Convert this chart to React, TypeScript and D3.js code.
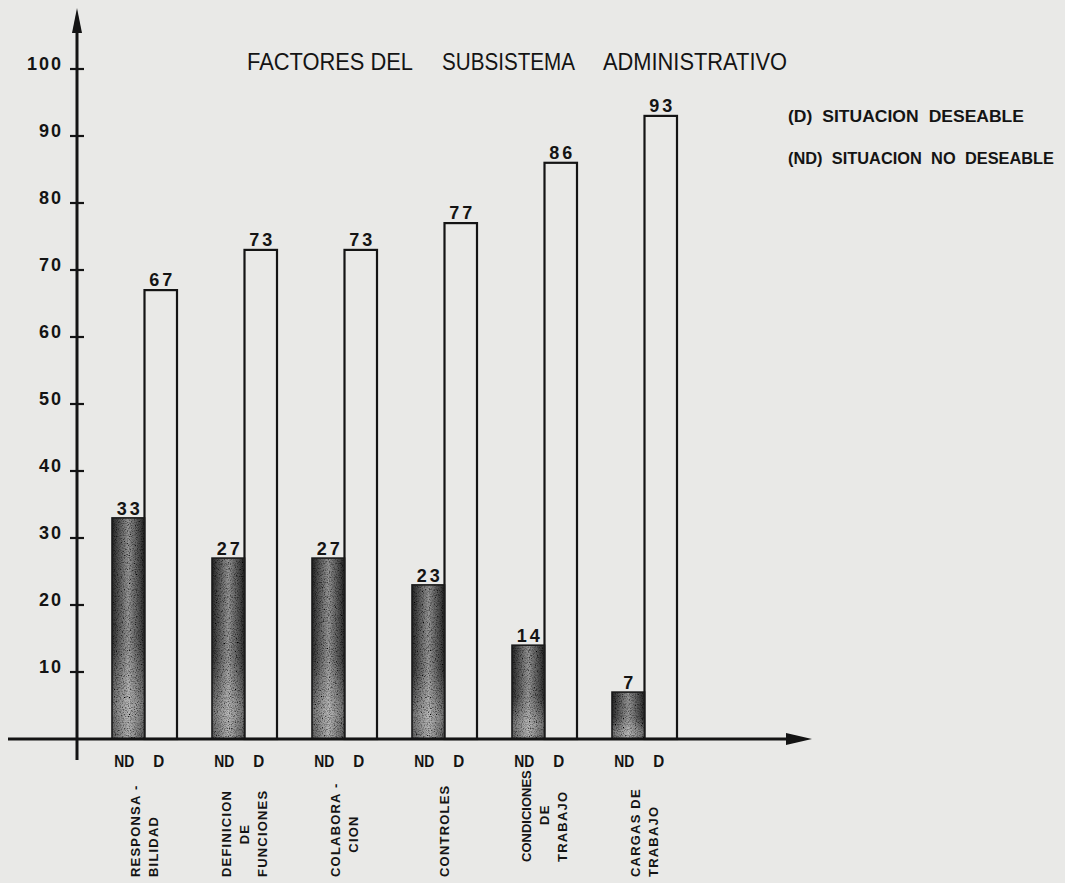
import React from "react";
import * as d3 from "d3";

// data
const categories = [
  "RESPONSABILIDAD",
  "DEFINICION DE FUNCIONES",
  "COLABORACION",
  "CONTROLES",
  "CONDICIONES DE TRABAJO",
  "CARGAS DE TRABAJO",
];
const categoryLines = [
  ["RESPONSA -", "BILIDAD"],
  ["DEFINICION", "DE", "FUNCIONES"],
  ["COLABORA -", "CION"],
  ["CONTROLES"],
  ["CONDICIONES", "DE", "TRABAJO"],
  ["CARGAS DE", "TRABAJO"],
];
const noDeseable = [33, 27, 27, 23, 14, 7];
const deseable = [67, 73, 73, 77, 86, 93];
const seriesKeys = ["ND", "D"];
const yTicks = [10, 20, 30, 40, 50, 60, 70, 80, 90, 100];
const titleWords = ["FACTORES DEL", "SUBSISTEMA", "ADMINISTRATIVO"];
const legendLines = ["(D) SITUACION DESEABLE", "(ND) SITUACION NO DESEABLE"];

const W = 1065;
const H = 883;
const BG = "#e9e9e7";
const INK = "#141414";
const FONT = "'Liberation Sans', Arial, sans-serif";

export default function App() {
  const baseY = 739;
  const axisX = 77;

  // scales
  const x0 = d3.scaleBand<string>().domain(categories).range([112, 677]).paddingInner(0.35).paddingOuter(0);
  const x1 = d3.scaleBand<string>().domain(seriesKeys).range([0, x0.bandwidth()]).padding(0);
  const y = d3.scaleLinear().domain([0, 100]).range([baseY, 69]);

  const rows = categories.map((c, i) => ({ cat: c, ND: noDeseable[i], D: deseable[i] }));

  const titleX = [247, 442, 603];
  const titleLen = [166, 133, 184];

  return (
    <svg
      width={W}
      height={H}
      style={{ position: "absolute", left: 0, top: 0, background: BG }}
    >
      <defs>
        <linearGradient id="ndH" x1="0" x2="1" y1="0" y2="0">
          <stop offset="0" stopColor="#222" />
          <stop offset="0.15" stopColor="#474747" />
          <stop offset="0.5" stopColor="#959595" />
          <stop offset="0.85" stopColor="#474747" />
          <stop offset="1" stopColor="#222" />
        </linearGradient>
        <linearGradient id="ndV" x1="0" x2="0" y1="0" y2="1">
          <stop offset="0" stopColor="#ffffff" stopOpacity="0" />
          <stop offset="0.55" stopColor="#ffffff" stopOpacity="0.05" />
          <stop offset="0.85" stopColor="#ffffff" stopOpacity="0.36" />
          <stop offset="1" stopColor="#ffffff" stopOpacity="0.25" />
        </linearGradient>
        <filter id="grain" x="0" y="0" width="1" height="1">
          <feTurbulence type="fractalNoise" baseFrequency="0.85" numOctaves="2" seed="7" result="noise" />
          <feColorMatrix
            in="noise"
            type="matrix"
            values="0 0 0 0 0  0 0 0 0 0  0 0 0 0 0  2.4 0 0 0 -1.0"
            result="specks"
          />
          <feComposite in="specks" in2="SourceGraphic" operator="atop" />
        </filter>
      </defs>

      <rect width={W} height={H} fill={BG} />

      {/* title */}
      {titleWords.map((w, i) => (
        <text
          key={w}
          x={titleX[i]}
          y={70}
          fontFamily={FONT}
          fontSize={24}
          fill={INK}
          textLength={titleLen[i]}
          lengthAdjust="spacingAndGlyphs"
        >
          {w}
        </text>
      ))}

      {/* legend */}
      {legendLines.map((t, i) => (
        <text
          key={t}
          x={788}
          y={122 + i * 42}
          fontFamily={FONT}
          fontWeight="bold"
          fontSize={17}
          fill={INK}
          wordSpacing={5}
          textLength={i === 0 ? 236 : 266}
          lengthAdjust="spacingAndGlyphs"
        >
          {t}
        </text>
      ))}

      {/* bars */}
      {rows.map((r, i) => {
        const gx = x0(r.cat)!;
        const ndX = gx + x1("ND")!;
        const dX = gx + x1("D")!;
        const bw = x1.bandwidth();
        return (
          <g key={r.cat}>
            <rect x={dX} y={y(r.D)} width={bw} height={baseY - y(r.D)} fill={BG} stroke={INK} strokeWidth={2.2} />
            <g filter="url(#grain)">
              <rect x={ndX} y={y(r.ND)} width={bw} height={baseY - y(r.ND)} fill="url(#ndH)" />
              <rect x={ndX} y={y(r.ND)} width={bw} height={baseY - y(r.ND)} fill="url(#ndV)" />
            </g>
            <rect x={ndX} y={y(r.ND)} width={bw} height={baseY - y(r.ND)} fill="none" stroke="#1a1a1a" strokeWidth={1.6} />
            <text
              x={ndX + bw / 2 + 1.5}
              y={y(r.ND) - 3}
              textAnchor="middle"
              fontFamily={FONT}
              fontWeight="bold"
              fontSize={18}
              letterSpacing={3}
              fill={INK}
            >
              {r.ND}
            </text>
            <text
              x={dX + bw / 2 + 1.5}
              y={y(r.D) - 4}
              textAnchor="middle"
              fontFamily={FONT}
              fontWeight="bold"
              fontSize={18}
              letterSpacing={3}
              fill={INK}
            >
              {r.D}
            </text>
            {/* ND / D markers under the axis */}
            {seriesKeys.map((k) => (
              <text
                key={k}
                x={gx + x1(k)! + bw / 2 - (k === "ND" ? 4 : 2)}
                y={767}
                textAnchor="middle"
                fontFamily={FONT}
                fontWeight="bold"
                fontSize={17}
                textLength={k === "ND" ? 20 : 11}
                lengthAdjust="spacingAndGlyphs"
                fill={INK}
              >
                {k}
              </text>
            ))}
            {/* rotated category label */}
            {categoryLines[i].map((line, j) => {
              const n = categoryLines[i].length;
              const cx = gx + x0.bandwidth() / 2 + (j - (n - 1) / 2) * 18;
              const bottom = i === 4 ? 862 : 877;
              const short = line.length <= 4;
              const firstLen = categoryLines[i][0].length * 8.6;
              const ty = short ? bottom - firstLen / 2 : bottom;
              const ls = line.length >= 11 ? 0 : 1.2;
              return (
                <text
                  key={line + j}
                  transform={`translate(${cx},${ty}) rotate(-90)`}
                  dy="0.36em"
                  textAnchor={short ? "middle" : "start"}
                  fontFamily={FONT}
                  fontWeight="bold"
                  fontSize={13}
                  letterSpacing={ls}
                  fill={INK}
                >
                  {line}
                </text>
              );
            })}
          </g>
        );
      })}

      {/* y axis */}
      <line x1={axisX} x2={axisX} y1={24} y2={760} stroke={INK} strokeWidth={3} />
      <path d={`M${axisX},8 L${axisX - 5},33 L${axisX + 5},33 Z`} fill={INK} />
      {yTicks.map((t) => (
        <g key={t}>
          <line x1={70} x2={84} y1={y(t)} y2={y(t)} stroke={INK} strokeWidth={2.2} />
          <text
            x={63}
            y={y(t) + 1}
            textAnchor="end"
            fontFamily={FONT}
            fontWeight="bold"
            fontSize={18}
            letterSpacing={2}
            fill={INK}
          >
            {t}
          </text>
        </g>
      ))}

      {/* x axis */}
      <line x1={8} x2={795} y1={baseY} y2={baseY} stroke={INK} strokeWidth={3} />
      <path d={`M812,${baseY} L786,${baseY - 6} L786,${baseY + 6} Z`} fill={INK} />
    </svg>
  );
}
